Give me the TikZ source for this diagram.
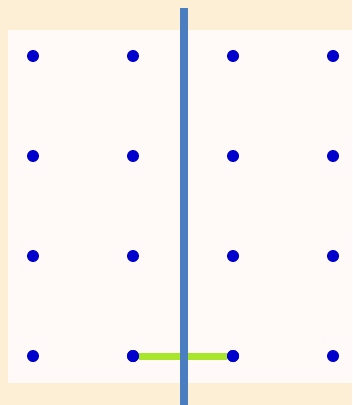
\documentclass[tikz,border=0pt]{standalone}
\usepackage{xcolor}
\usetikzlibrary{positioning, calc}

\definecolor{papel}{HTML}{FCEFD6}
\definecolor{folha}{HTML}{FFFAF8}
\definecolor{ponto}{HTML}{0000CC}
\definecolor{eixo}{HTML}{4A7EC0}
\definecolor{segmento}{HTML}{A8E62C}

\begin{document}
\begin{tikzpicture}[
        x=0.02cm, y=-0.02cm,
        % 1. ESTILOS
        % Pontos da malha
        dot/.style={circle, fill=ponto, inner sep=0pt, minimum size=0.24cm},
        % Eixo de simetria (vertical)
        axis/.style={draw=eixo, line width=0.16cm},
        % Segmento entre dois pontos
        seg/.style={draw=segmento, line width=0.14cm}
    ]

        % 2. FUNDO
        \fill[papel] (0,0) rectangle (352,405);
        \fill[folha] (8,30) rectangle (352,383);
        \useasboundingbox (0,0) rectangle (352,405);

        % 3. MALHA DE PONTOS (4x4)
        \foreach \i in {0,...,3} {
            \foreach \j in {0,...,3} {
                \node[dot] (p\i\j) at (33+100*\i, 56+100*\j) {};
            }
        }

        % 4. SEGMENTO E EIXO
        \draw[seg] (p13) -- (p23);
        \node[dot] at (p13) {};
        \node[dot] at (p23) {};

        \coordinate (topo) at (183.5,8);
        \coordinate (base) at (183.5,405);
        \draw[axis] (topo) -- (base);

    \end{tikzpicture}
\end{document}
